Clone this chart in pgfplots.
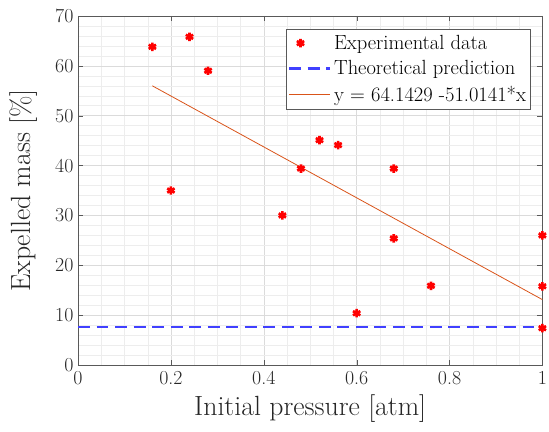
\documentclass[border=0pt]{standalone}
\usepackage{fontspec}
\usepackage{pgfplots}
\pgfplotsset{compat=1.18}
\definecolor{mgrid}{gray}{0.86}
\definecolor{mgridminor}{gray}{0.93}
\definecolor{fitc}{rgb}{0.85,0.325,0.098}
\pgfplotsset{mylineleg/.style={legend image code/.code={\draw[#1] (0pt,0pt) -- (31pt,0pt);}}}
\begin{document}
\begin{tikzpicture}
\begin{axis}[
  width=351pt, height=264pt, scale only axis,
  xmin=0, xmax=1, ymin=0, ymax=70,
  xtick={0,0.2,0.4,0.6,0.8,1},
  xticklabels={0,0.2,0.4,0.6,0.8,1},
  ytick={0,10,20,30,40,50,60,70},
  minor x tick num=3, minor y tick num=4,
  grid=both,
  major grid style={mgrid, line width=0.4pt},
  minor grid style={mgridminor, line width=0.3pt},
  axis line style={black!65},
  tick style={black!65},
  tick align=inside,
  minor tick length=0pt,
  major tick length=4pt,
  /pgf/number format/assume math mode=true,
  ticklabel style={font=\fontsize{15}{17}\selectfont, text=black!85},
  xticklabel style={yshift=-1pt},
  xlabel={Initial pressure [atm]},
  ylabel={Expelled mass [\%]},
  label style={font=\fontsize{21}{24}\selectfont, text=black!85},
  xlabel style={at={(axis description cs:0.5,-0.125)}, anchor=center},
  ylabel style={at={(axis description cs:-0.118,0.5)}, anchor=center},
  legend style={at={(0.974,0.963)}, anchor=north east, draw=black!65,
     font=\fontsize{15.5}{17}\selectfont, inner xsep=1pt, inner ysep=2.5pt, row sep=3pt,
     legend cell align=left},
]
\addplot[only marks, mark=asterisk, color=red, mark size=3.2pt, line width=2pt]
  coordinates {
  (0.16,63.8) (0.24,65.8) (0.28,59.0) (0.20,35.0) (0.44,30.0)
  (0.48,39.4) (0.52,45.1) (0.56,44.1) (0.68,39.4) (0.68,25.4)
  (0.60,10.4) (0.76,15.9) (1.00,26.0) (1.00,15.8) (1.00,7.4)
  };
\addlegendentry{Experimental data}
\addplot[color=blue!75!white, line width=1.8pt, dash pattern=on 9pt off 5pt, mylineleg]
  coordinates {(0,7.6) (1,7.6)};
\addlegendentry{Theoretical prediction}
\addplot[color=fitc, line width=0.6pt, mylineleg]
  coordinates {(0.16,55.98) (1,13.13)};
\addlegendentry{y = 64.1429 -51.0141*x}
\coordinate (sw) at (rel axis cs:0,0);
\coordinate (ne) at (rel axis cs:1,1);
\end{axis}
\pgfresetboundingbox
\path[use as bounding box] ([xshift=-59pt,yshift=-50pt]sw) rectangle ([xshift=5pt,yshift=12pt]ne);
\end{tikzpicture}
\end{document}
